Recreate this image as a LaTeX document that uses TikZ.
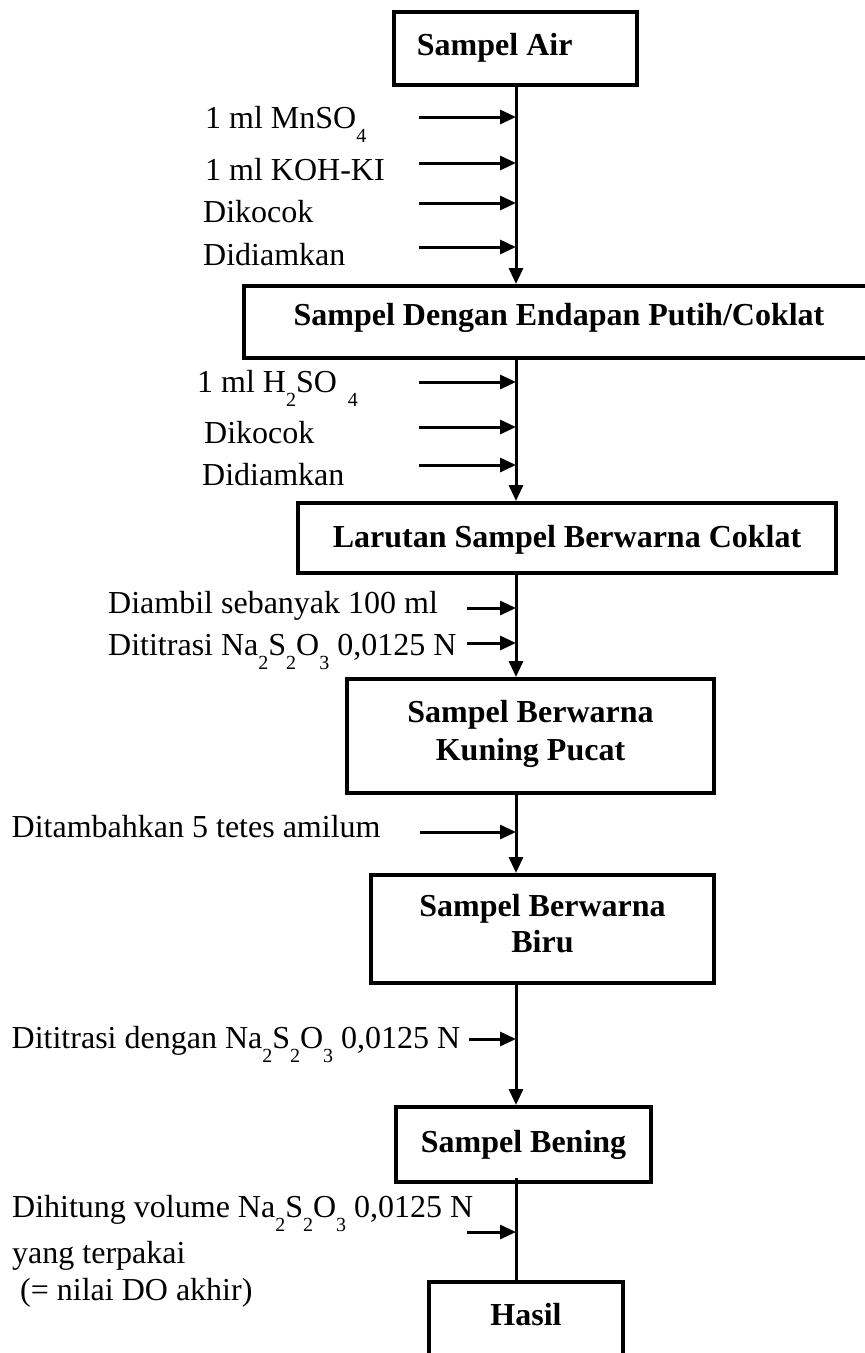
\documentclass[tikz,border=0pt]{standalone}
\usepackage{fontspec}
\setmainfont{Liberation Serif}
\usetikzlibrary{arrows.meta}
% lowered chemical index, as typed in the original worksheet
\newcommand\lowidx[1]{\raisebox{-14pt}{\fontsize{20}{20}\selectfont #1}}
\begin{document}
\begin{tikzpicture}[x=1pt,y=-1pt,
  box/.style={draw, line width=4pt, rectangle, inner sep=0pt},
  title/.style={font=\fontsize{32}{38}\selectfont\bfseries, inner sep=0pt, align=center},
  note/.style={font=\fontsize{32}{38}\selectfont, inner sep=0pt, anchor=base west},
  feed/.style={line width=3pt, -{Triangle[length=16pt,width=14pt]}},
  flow/.style={line width=3pt, -{Triangle[length=16pt,width=14pt]}},
  link/.style={line width=3pt},
]
\useasboundingbox (0,0) rectangle (865,1353);
\fill[white] (0,0) rectangle (865,1353);

% main vertical flow line
\coordinate (spine) at (516,0);

% process boxes
\node[box, minimum width=243pt, minimum height=73pt]  (b1) at (515.5,48.5) {};
\node[box, minimum width=630pt, minimum height=72pt]  (b2) at (559,322) {};
\node[box, minimum width=538pt, minimum height=70pt]  (b3) at (567,538) {};
\node[box, minimum width=367pt, minimum height=114pt] (b4) at (530.5,736) {};
\node[box, minimum width=343pt, minimum height=108pt] (b5) at (542.5,929) {};
\node[box, minimum width=255pt, minimum height=75pt]  (b6) at (523.5,1144.5) {};
\node[box, minimum width=194pt, minimum height=118pt] (b7) at (526,1341) {};

% box titles
\node[title, anchor=base] (t1) at (494.7,55) {Sampel Air};
\node[title, anchor=base] (t2) at (559,325) {Sampel Dengan Endapan Putih/Coklat};
\node[title, anchor=base] (t3) at (567,547) {Larutan Sampel Berwarna Coklat};
\node[title] (t4) at (530.5,733.5) {Sampel Berwarna\\Kuning Pucat};
\node[title] (t5) at (542.5,924) {Sampel Berwarna\\[-2pt]Biru};
\node[title, anchor=base] (t6) at (523.5,1152) {Sampel Bening};
\node[title, anchor=base] (t7) at (526,1325) {Hasil};

% flow between boxes
\draw[flow] (b1.south -| spine) -- (b2.north -| spine);
\draw[flow] (b2.south -| spine) -- (b3.north -| spine);
\draw[flow] (b3.south -| spine) -- (b4.north -| spine);
\draw[flow] (b4.south -| spine) -- (b5.north -| spine);
\draw[flow] (b5.south -| spine) -- (b6.north -| spine);
\draw[link] ([yshift=6pt]b6.south -| spine) -- (b7.north -| spine);

% step 1: reagents added to the water sample
\node[note] (n11) at (205,128) {1 ml MnSO\lowidx{4}};
\node[note] (n12) at (205,180) {1 ml KOH-KI};
\node[note] (n13) at (203,222) {Dikocok};
\node[note] (n14) at (203,265) {Didiamkan};
\coordinate (f11) at (419,117);
\coordinate (f12) at (419,163);
\coordinate (f13) at (419,203);
\coordinate (f14) at (419,247);
\foreach \f in {f11,f12,f13,f14}
  \draw[feed] (\f) -- (\f -| spine);

% step 2: acidification
\node[note] (n21) at (197,392) {1 ml H\lowidx{2}SO\hspace{11pt}\lowidx{4}};
\node[note] (n22) at (204,443) {Dikocok};
\node[note] (n23) at (202,485) {Didiamkan};
\coordinate (f21) at (418.5,382);
\coordinate (f22) at (418.5,427);
\coordinate (f23) at (418.5,465);
\foreach \f in {f21,f22,f23}
  \draw[feed] (\f) -- (\f -| spine);

% step 3: first titration
\node[note] (n31) at (108,613) {Diambil sebanyak 100 ml};
\node[note] (n32) at (108,655) {Dititrasi Na\lowidx{2}S\lowidx{2}O\lowidx{3} 0,0125 N};
\coordinate (f31) at (467,608);
\coordinate (f32) at (467,643);
\foreach \f in {f31,f32}
  \draw[feed] (\f) -- (\f -| spine);

% step 4: starch indicator
\node[note] (n41) at (11.5,837) {Ditambahkan 5 tetes amilum};
\coordinate (f41) at (420,832);
\draw[feed] (f41) -- (f41 -| spine);

% step 5: titration to colourless
\node[note] (n51) at (11.5,1048) {Dititrasi dengan Na\lowidx{2}S\lowidx{2}O\lowidx{3} 0,0125 N};
\coordinate (f51) at (469,1039);
\draw[feed] (f51) -- (f51 -| spine);

% step 6: result
\node[note] (n61) at (12,1217) {Dihitung volume Na\lowidx{2}S\lowidx{2}O\lowidx{3} 0,0125 N};
\node[note] (n62) at (12,1263) {yang terpakai};
\node[note] (n63) at (12,1300) {\ (= nilai DO akhir)};
\coordinate (f61) at (467,1232);
\draw[feed] (f61) -- (f61 -| spine);
\end{tikzpicture}
\end{document}
